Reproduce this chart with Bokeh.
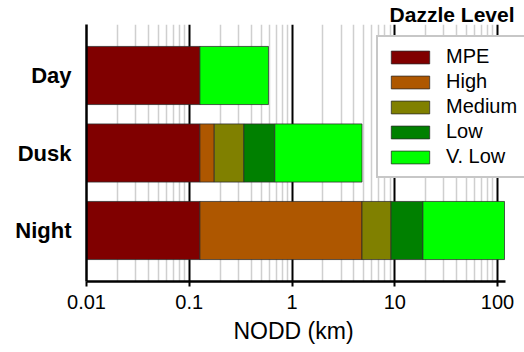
import math
from bokeh.plotting import figure
from bokeh.models import (FixedTicker, CustomJSTickFormatter, Legend, LegendItem,
                          Title, Range1d)
from bokeh.embed import file_html
from bokeh.resources import INLINE

# ---- data ----
categories = ["Night", "Dusk", "Day"]
levels = ["MPE", "High", "Medium", "Low", "V. Low"]
colors = ["#800000", "#AE5700", "#808000", "#008000", "#00FF00"]
axis_start = 0.01
axis_end = 120.0
# cumulative end (km) of each dazzle level, per condition (None = absent)
night_ends = [0.127, 4.8, 9.2, 18.8, 117.0]
dusk_ends = [0.127, 0.175, 0.34, 0.68, 4.8]
day_ends = [0.127, None, None, None, 0.59]
major_ticks = [0.01, 0.1, 1, 10, 100]
tick_labels = ["0.01", "0.1", "1", "10", "100"]

FONT = "Liberation Sans"

W, H = 524, 352
BL, BR, BT, BB = 86, 0, 24, 71
decade_px = 102.75
frame_w = W - BL - BR
x_hi = 10 ** (math.log10(axis_start) + frame_w / decade_px)

p = figure(width=W, height=H, x_axis_type="log",
           x_range=Range1d(axis_start, x_hi), y_range=Range1d(0.342, 3.658),
           output_backend="svg", toolbar_location=None,
           min_border_left=BL, min_border_right=BR,
           min_border_top=BT, min_border_bottom=BB)
p.outline_line_color = None
p.background_fill_color = "white"
p.border_fill_color = "white"

ends_by_cat = [night_ends, dusk_ends, day_ends]
ypos = list(range(1, len(categories) + 1))

items = []
for li, (level, color) in enumerate(zip(levels, colors)):
    ys, lefts, rights = [], [], []
    for ci, ends in enumerate(ends_by_cat):
        if ends[li] is None:
            continue
        prev = axis_start
        for k in range(li - 1, -1, -1):
            if ends[k] is not None:
                prev = ends[k]
                break
        ys.append(ypos[ci])
        lefts.append(prev)
        rights.append(ends[li])
    r = p.hbar(y=ys, left=lefts, right=rights, height=0.75,
               fill_color=color, line_color="#2a2a2a", line_alpha=0.75,
               line_width=1)
    items.append(LegendItem(label=level, renderers=[r]))

# ---- x axis ----
minor = [m * 10.0 ** e for e in range(-2, 2) for m in range(2, 10)]
ticker = FixedTicker(ticks=major_ticks, minor_ticks=minor)
xa = p.xaxis[0]
xa.ticker = ticker
xa.bounds = (axis_start, axis_end)
xa.formatter = CustomJSTickFormatter(
    args=dict(t=major_ticks, l=tick_labels),
    code="for (let i=0;i<t.length;i++){ if (Math.abs(tick-t[i])<1e-9*t[i]) return l[i]; } return '';")
xa.major_label_text_font = FONT
xa.major_label_text_font_size = "20px"
xa.major_label_text_color = "black"
xa.major_label_standoff = 8
xa.axis_line_color = "black"
xa.axis_line_width = 2.5
xa.major_tick_line_color = "black"
xa.major_tick_line_width = 2
xa.major_tick_in = 0
xa.major_tick_out = 5
xa.minor_tick_line_color = None

# x axis title, centred under the drawn axis (0.01 .. 120)
xtitle = Title(text="NODD (km)", align="left", offset=147, standoff=8,
               text_font=FONT, text_font_size="23px", text_font_style="normal",
               text_color="black")
p.add_layout(xtitle, "below")

p.xgrid.ticker = ticker
p.xgrid.grid_line_color = "black"
p.xgrid.grid_line_width = 2
p.xgrid.minor_grid_line_color = "#cfcfcf"
p.xgrid.minor_grid_line_width = 1.5
p.ygrid.grid_line_color = None

# ---- y axis ----
ya = p.yaxis[0]
ya.ticker = FixedTicker(ticks=ypos)
ya.major_label_overrides = {y: c for y, c in zip(ypos, categories)}
ya.major_label_text_font = FONT
ya.major_label_text_font_size = "22px"
ya.major_label_text_font_style = "bold"
ya.major_label_text_color = "black"
ya.major_label_standoff = 9
ya.major_tick_line_color = None
ya.minor_tick_line_color = None
ya.axis_line_color = "black"
ya.axis_line_width = 2.5

# ---- legend ----
legend = Legend(items=items, location=(290, 103))
legend.label_text_font = FONT
legend.label_text_font_size = "20px"
legend.label_text_color = "black"
legend.label_height = 20
legend.glyph_height = 16
legend.glyph_width = 48
legend.label_standoff = 12
legend.spacing = 2
legend.padding = 8
legend.margin = 0
legend.border_line_color = "#909090"
legend.border_line_width = 2
legend.background_fill_color = "white"
legend.background_fill_alpha = 1
p.add_layout(legend, "center")

title = Title(text="Dazzle Level", align="right", offset=10, standoff=-3,
              text_font=FONT, text_font_size="21px", text_font_style="bold",
              text_color="black", vertical_align="bottom")
p.add_layout(title, "above")

open("out.html", "w").write(file_html(p, INLINE))
